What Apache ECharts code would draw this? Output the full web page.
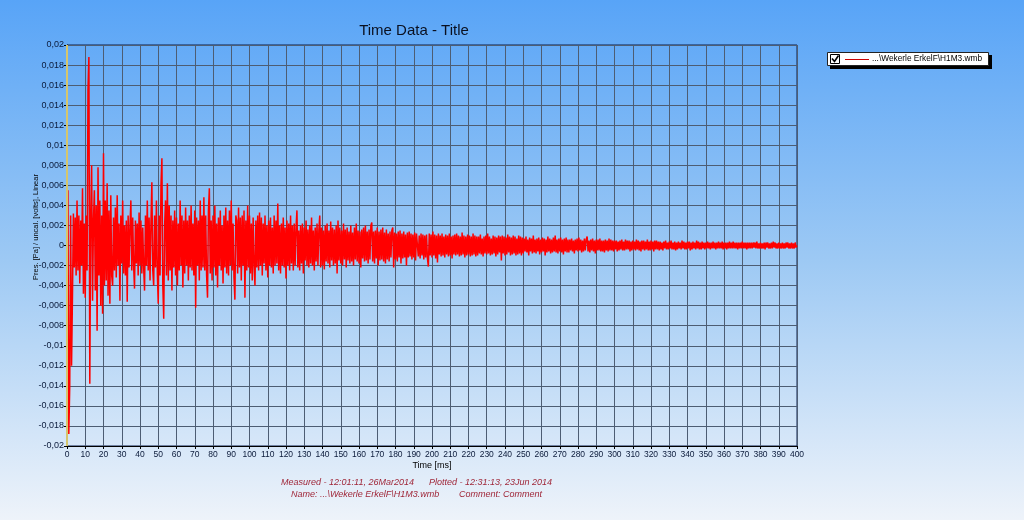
<!DOCTYPE html>
<html><head><meta charset="utf-8">
<script src="https://cdn.jsdelivr.net/npm/echarts@6/dist/echarts.min.js"></script>
<style>html,body{margin:0;padding:0;overflow:hidden;}#c{width:1024px;height:520px;}</style>
</head><body><div id="c"></div>
<script>
// Sample spacing of the recording, in ms
const sampleStepMs = 0.5;
// Pressure values, in units of 0.0001 Pa (one array per 25 ms window)
const pres000 = [-35,55,-188,-140,30,-120,-50,32,-22,28, -30,45,-25,30,-38,25,-20,57,-48,22, -52,30,-25,155,188,-138,30,80,-55,25, 55,-45,40,-85,78,-30,45,-60,30,-68, 92,-40,45,-35,62,-50,35,-58,50,-30];
const pres025 = [-40,28,-25,38,-32,50,-20,22,-55,30, -18,45,-28,20,-30,25,-56,30,-22,18, 45,-25,28,-20,-43,25,-18,22,-30,33, -20,25,-28,18,-22,-45,30,-20,45,-25, 28,-35,22,63,-25,-40,30,-22,45,-28];
const pres050 = [-58,30,-30,60,87,-40,-73,20,45,-30, 62,-35,40,-25,30,-45,25,-22,35,-30, 28,-40,22,-25,45,-20,30,-42,25,-28, 38,-20,25,-35,30,-22,40,-25,22,-30, 35,-62,28,-20,25,-35,45,-25,30,-22];
const pres075 = [48,-25,30,-30,-52,35,57,-28,25,-35, 30,-22,40,-30,22,-42,28,-20,35,-25, 20,-38,30,-22,38,-28,25,-30,35,-20, 45,-25,22,-32,-54,30,25,-28,38,-22, 28,-35,30,-20,35,-52,25,-25,40,-22];
const pres100 = [30,-28,22,-35,28,-20,-40,25,-22,30, -25,33,-20,28,-30,22,-18,30,-25,20, -32,25,-20,28,-22,18,-28,30,-20,25, -18,42,-25,20,-28,22,-20,28,-22,18, -33,25,-20,22,-25,30,-18,20,-25,22];
const pres125 = [-20,18,35,-22,15,-25,20,-18,22,-28, 18,-15,25,-20,16,-22,20,-18,28,-20, 15,-25,18,-16,22,-20,15,30,-22,18, -20,15,-24,20,-16,22,-18,15,-22,24, -15,18,-20,16,-18,20,-28,25,-15,18];
const pres150 = [-18,15,-20,22,-14,16,-22,18,-15,14, -18,20,-16,13,-20,18,-14,22,-16,15, -18,14,-22,16,-13,18,-16,20,-15,14, -18,16,-14,20,23,-16,14,-18,15,-13, 18,-20,14,-15,16,-14,18,-16,13,-18];
const pres175 = [16,-14,12,-16,14,-12,15,18,-22,13, -14,12,-16,14,-12,15,-18,12,-13,14, -12,11,-20,13,-12,14,-11,12,-14,11, -12,13,-15,12,13,-11,10,-13,12,-10, 11,-14,10,-12,11,-13,-21,12,-10,11];
const pres200 = [-12,14,-10,11,-13,10,-17,12,-9,10, -11,12,-10,9,-12,11,-9,10,-11,12, -10,9,-13,10,-9,11,-10,12,-9,10, -11,9,-10,13,-9,10,-12,9,-10,11, -9,10,-11,9,-10,12,-9,10,-11,9];
const pres225 = [-10,9,-8,11,-9,7,-11,9,-8,10, -9,12,-8,9,-10,7,-9,10,-8,9, -11,8,-9,10,-7,9,-15,10,-8,9, -10,8,-9,11,-7,9,-10,8,-9,10, -8,9,-10,7,-9,10,-8,9,-10,8];
const pres250 = [-8,7,-6,9,-7,6,-10,8,-6,7, -8,10,-7,6,-8,7,-6,8,-9,6, -7,8,-6,7,-10,6,-7,9,-6,7, -8,6,-7,8,-6,10,-7,6,-8,7, -6,8,-7,6,-9,7,-6,8,-7,6];
const pres275 = [-7,6,-5,7,-6,5,-8,6,-5,7, -6,8,-5,6,-7,5,-6,7,-5,6, 9,-6,5,-7,6,-5,7,-6,5,-8, 6,-5,6,-5,7,-6,5,-6,5,-7, 6,-5,5,-6,7,-5,6,-5,5,-6];
const pres300 = [5,-4,5,-6,4,-5,5,-4,6,-5, 4,-5,6,-4,5,-4,5,-6,4,-5, 5,-4,4,-5,6,-4,5,-5,4,-6, 5,-4,5,-5,4,-4,6,-5,4,-5, 5,-4,4,-6,5,-4,5,-4,4,-5];
const pres325 = [4,-4,3,-5,4,-3,5,-4,3,-4, 4,-3,5,-4,3,-4,4,-5,3,-4, 4,-3,3,-4,5,-3,4,-4,3,-4, 4,-3,4,-5,3,-4,4,-3,3,-4, 5,-3,4,-4,3,-4,4,-3,3,-4];
const pres350 = [3,-3,4,-3,3,-4,3,-3,4,-3, 3,-4,3,-3,4,-3,3,-3,4,-4, 3,-3,3,-4,3,-3,4,-3,3,-3, 4,-3,3,-3,3,-4,3,-3,3,-3, 4,-3,3,-3,3,-4,3,-3,3,-3];
const pres375 = [3,-3,3,-2,3,-3,4,-3,2,-3, 3,-3,2,-3,3,-4,3,-2,3,-3, 2,-3,3,-3,4,-2,3,-3,2,-3, 3,-3,2,-3,3,-3,2,-3,3,-2, 3,-3,2,-3,3,-3,2,-3,3,-2, 0];

const yTicks = ['0,02','0,018','0,016','0,014','0,012','0,01','0,008','0,006','0,004','0,002','0','-0,002','-0,004','-0,006','-0,008','-0,01','-0,012','-0,014','-0,016','-0,018','-0,02'];

const pres = [].concat(pres000,pres025,pres050,pres075,pres100,pres125,pres150,pres175,pres200,pres225,pres250,pres275,pres300,pres325,pres350,pres375);
const seriesData = pres.map((v,i)=>[i*sampleStepMs, v]);

const FF = '"Liberation Sans", Arial, sans-serif';
const chart = echarts.init(document.getElementById('c'), null, {renderer:'canvas'});
chart.setOption({
  animation:false,
  backgroundColor:{type:'linear',x:0,y:0,x2:0,y2:1,colorStops:[{offset:0,color:'#58a4f7'},{offset:0.5,color:'#9dc9f4'},{offset:1,color:'#eef3fa'}]},
  grid:{left:67,top:45,width:730,height:401,show:true,borderColor:'#0b1f4f',borderWidth:1,backgroundColor:'transparent'},
  xAxis:{type:'value',min:0,max:400,interval:10,
    axisLine:{show:true,onZero:false,lineStyle:{color:'#000'}},
    axisTick:{show:true,length:3,lineStyle:{color:'#000'}},
    axisLabel:{fontSize:8.5,fontFamily:FF,color:'#0b1a3a',margin:4,hideOverlap:false,showMinLabel:true,showMaxLabel:true},
    splitLine:{show:true,lineStyle:{color:'#4d5d73',width:1}}},
  yAxis:{type:'value',min:-200,max:200,interval:20,
    axisLine:{show:true,onZero:false,lineStyle:{color:'#000'}},
    axisTick:{show:true,length:3,lineStyle:{color:'#000'}},
    axisLabel:{fontSize:9,fontFamily:FF,color:'#0b1a3a',margin:3,
      formatter:(v)=>yTicks[Math.round((200-v)/20)]},
    splitLine:{show:true,lineStyle:{color:'#4d5d73',width:1}}},
  series:[{type:'line',data:seriesData,showSymbol:false,symbol:'none',sampling:'none',
    lineStyle:{color:'#ff0000',width:1.5},itemStyle:{color:'#ff0000'},
    markLine:{silent:true,symbol:'none',label:{show:false},lineStyle:{color:'#d6c66c',width:2,type:'solid'},data:[{xAxis:0}]},
    z:3}],
  graphic:[
    {type:'text',x:414,y:31,style:{text:'Time Data - Title',fontSize:15,fontFamily:FF,fill:'#0a1020',align:'center',verticalAlign:'middle'}},
    {type:'text',x:36,y:227,rotation:Math.PI/2,style:{text:'Pres. [Pa] / uncal. [volts], Linear',fontSize:7.5,fontFamily:FF,fill:'#000',align:'center',verticalAlign:'middle'}},
    {type:'text',x:432,y:466,style:{text:'Time [ms]',fontSize:9,fontFamily:FF,fill:'#000',align:'center',verticalAlign:'middle'}},
    {type:'text',x:281,y:482,style:{text:'Measured - 12:01:11, 26Mar2014',fontSize:9,fontStyle:'italic',fontFamily:FF,fill:'#a0283a',align:'left',verticalAlign:'middle'}},
    {type:'text',x:429,y:482,style:{text:'Plotted - 12:31:13, 23Jun 2014',fontSize:9,fontStyle:'italic',fontFamily:FF,fill:'#a0283a',align:'left',verticalAlign:'middle'}},
    {type:'text',x:291,y:494,style:{text:'Name: ...\\Wekerle ErkelF\\H1M3.wmb',fontSize:9,fontStyle:'italic',fontFamily:FF,fill:'#a0283a',align:'left',verticalAlign:'middle'}},
    {type:'text',x:459,y:494,style:{text:'Comment: Comment',fontSize:9,fontStyle:'italic',fontFamily:FF,fill:'#a0283a',align:'left',verticalAlign:'middle'}},
    {type:'rect',shape:{x:830,y:55,width:162,height:14},style:{fill:'#000'}},
    {type:'rect',shape:{x:827.5,y:52.5,width:161,height:13},style:{fill:'#fff',stroke:'#222',lineWidth:1}},
    {type:'rect',shape:{x:830.5,y:54.5,width:9,height:9},style:{fill:'#fff',stroke:'#000',lineWidth:1}},
    {type:'polyline',shape:{points:[[832,58.5],[834.5,61.5],[838.5,55.5]]},style:{stroke:'#000',lineWidth:1.6,fill:null}},
    {type:'line',shape:{x1:845,y1:59.5,x2:869,y2:59.5},style:{stroke:'#cc0000',lineWidth:1}},
    {type:'text',x:872,y:59,style:{text:'...\\Wekerle ErkelF\\H1M3.wmb',fontSize:8.3,fontFamily:FF,fill:'#000',align:'left',verticalAlign:'middle'}}
  ]
});
</script></body></html>
